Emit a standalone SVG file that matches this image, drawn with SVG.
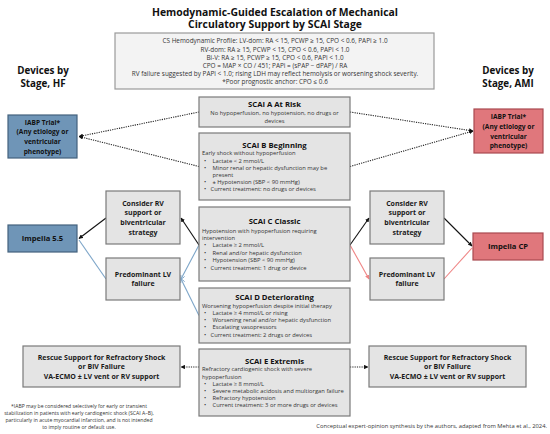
<svg xmlns="http://www.w3.org/2000/svg" width="550" height="434" viewBox="0 0 550 434">
<defs>
<style>
text{font-family:"Open Sans","Liberation Sans",sans-serif;}
.ttl{font-size:10.4px;font-weight:700;fill:#111;text-anchor:middle}
.dev{font-size:9.8px;font-weight:700;fill:#111;text-anchor:middle}
.prof{font-size:6.4px;fill:#333;text-anchor:middle}
.box{fill:#e4e4e4;stroke:#7a7a7a;stroke-width:1.2}
.pbox{fill:#f3f3f3;stroke:#9a9a9a;stroke-width:1.2}
.blue{fill:#6f95b7;stroke:#44627d;stroke-width:1.2}
.red{fill:#e0777c;stroke:#a94a50;stroke-width:1.2}
.st{font-size:7.7px;font-weight:700;fill:#111;text-anchor:middle}
.bd{font-size:5.8px;fill:#333}
.bdc{font-size:5.8px;fill:#333;text-anchor:middle}
.nb{font-size:7px;font-weight:700;fill:#1a1a1a;text-anchor:middle}
.ib{font-size:6.6px;font-weight:700;fill:#111;text-anchor:middle}
.imp{font-size:7.6px;font-weight:700;fill:#111;text-anchor:middle}
.fn{font-size:5.1px;fill:#333;text-anchor:middle}
.cap{font-size:5.8px;fill:#333;text-anchor:end}
.dot{fill:none;stroke:#222;stroke-width:1.1;stroke-dasharray:1.2 1.1}
.blk{fill:none;stroke:#111;stroke-width:1.1}
.bl{fill:none;stroke:#7ea6c9;stroke-width:1.1}
.rd{fill:none;stroke:#ef8585;stroke-width:1.1}
</style>
<marker id="ak" viewBox="0 0 10 10" refX="9" refY="5" markerWidth="4" markerHeight="4" orient="auto"><path d="M0,0 L10,5 L0,10 z" fill="#111"/></marker>
<marker id="ab" viewBox="0 0 10 10" refX="9" refY="5" markerWidth="4" markerHeight="4" orient="auto"><path d="M0,0 L10,5 L0,10" fill="none" stroke="#7ea6c9" stroke-width="2"/></marker>
<marker id="ar" viewBox="0 0 10 10" refX="9" refY="5" markerWidth="4" markerHeight="4" orient="auto"><path d="M0,0 L10,5 L0,10 z" fill="#ef8585"/></marker>
</defs>

<g id="title">
<text class="ttl" x="275" y="15.5">Hemodynamic-Guided Escalation of Mechanical</text>
<text class="ttl" x="275" y="28">Circulatory Support by SCAI Stage</text>
</g>

<g id="profile">
<rect class="pbox" x="115" y="33" width="319" height="56"/>
<text class="prof" x="275" y="43.3">CS Hemodynamic Profile: LV-dom: RA &lt; 15, PCWP ≥ 15, CPO &lt; 0.6, PAPi ≥ 1.0</text>
<text class="prof" x="275" y="51.5">RV-dom: RA ≥ 15, PCWP &lt; 15, CPO &lt; 0.6, PAPi &lt; 1.0</text>
<text class="prof" x="275" y="59.7">Bi-V: RA ≥ 15, PCWP ≥ 15, CPO &lt; 0.6, PAPi &lt; 1.0</text>
<text class="prof" x="275" y="67.9">CPO = MAP × CO / 451; PAPi = (sPAP − dPAP) / RA</text>
<text class="prof" x="275" y="76.1">RV failure suggested by PAPi &lt; 1.0; rising LDH may reflect hemolysis or worsening shock severity.</text>
<text class="prof" x="275" y="84.3">*Poor prognostic anchor: CPO ≤ 0.6</text>
</g>

<g id="hdr-hf">
<text class="dev" x="43" y="73.5">Devices by</text>
<text class="dev" x="43" y="86.5">Stage, HF</text>
</g>
<g id="hdr-ami">
<text class="dev" x="508" y="73.5">Devices by</text>
<text class="dev" x="508" y="86.5">Stage, AMI</text>
</g>

<g id="connectors">
<path class="dot" d="M199,112 L79,136.5" marker-end="url(#ak)"/>
<path class="dot" d="M199,166.5 L79,136.5" marker-end="url(#ak)"/>
<path class="dot" d="M350,112 L473,131" marker-end="url(#ak)"/>
<path class="dot" d="M350,166.5 L473,131" marker-end="url(#ak)"/>
<path class="dot" d="M199,367 L181,367" marker-end="url(#ak)"/>
<path class="dot" d="M350,367 L368,367" marker-end="url(#ak)"/>
<path class="bl" d="M199,245 L181,279" marker-end="url(#ab)"/>
<path class="bl" d="M199,315.5 L181,279" marker-end="url(#ab)"/>
<path class="bl" d="M106,279 L79,240"/>
<path class="blk" d="M199,245 L181,218" marker-end="url(#ak)"/>
<path class="blk" d="M106,218 L79,238.5" marker-end="url(#ak)"/>
<path class="rd" d="M350,245 L369,279" marker-end="url(#ar)"/>
<path class="rd" d="M444,279 L472,248"/>
<path class="blk" d="M350,245 L369,218" marker-end="url(#ak)"/>
<path class="blk" d="M444,218 L472,246" marker-end="url(#ak)"/>
</g>

<g id="iabp-hf">
<rect class="blue" x="8" y="115" width="69" height="43"/>
<text class="ib" x="42.5" y="124.5">IABP Trial*</text>
<text class="ib" x="42.5" y="134.2">(Any etiology or</text>
<text class="ib" x="42.5" y="143.9">ventricular</text>
<text class="ib" x="42.5" y="153.6">phenotype)</text>
</g>

<g id="iabp-ami">
<rect class="red" x="474" y="109" width="69" height="44"/>
<text class="ib" x="508.5" y="119.3">IABP Trial*</text>
<text class="ib" x="508.5" y="129">(Any etiology or</text>
<text class="ib" x="508.5" y="138.7">ventricular</text>
<text class="ib" x="508.5" y="148.4">phenotype)</text>
</g>

<g id="scai-a">
<rect class="box" x="199" y="97" width="151" height="30"/>
<text class="st" x="274.5" y="106.8">SCAI A At Risk</text>
<text class="bdc" x="274.5" y="115.3">No hypoperfusion, no hypotension, no drugs or</text>
<text class="bdc" x="274.5" y="122.6">devices</text>
</g>

<g id="scai-b">
<rect class="box" x="199" y="133" width="151" height="67"/>
<text class="st" x="274.5" y="147.5">SCAI B Beginning</text>
<text class="bd" x="202" y="155.4">Early shock without hypoperfusion</text>
<text class="bd" x="204" y="162.5">•</text><text class="bd" x="212.5" y="162.5">Lactate &lt; 2 mmol/L</text>
<text class="bd" x="204" y="169.7">•</text><text class="bd" x="212.5" y="169.7">Minor renal or hepatic dysfunction may be</text>
<text class="bd" x="212.5" y="176.9">present</text>
<text class="bd" x="204" y="184.1">•</text><text class="bd" x="212.5" y="184.1">± Hypotension (SBP &lt; 90 mmHg)</text>
<text class="bd" x="204" y="191.3">•</text><text class="bd" x="210.5" y="191.3">Current treatment: no drugs or devices</text>
</g>

<g id="scai-c">
<rect class="box" x="199" y="207" width="151" height="74"/>
<text class="st" x="274.5" y="224.3">SCAI C Classic</text>
<text class="bd" x="202" y="232.5">Hypotension with hypoperfusion requiring</text>
<text class="bd" x="202" y="239.7">intervention</text>
<text class="bd" x="204" y="247">•</text><text class="bd" x="212.5" y="247">Lactate ≥ 2 mmol/L</text>
<text class="bd" x="204" y="254.5">•</text><text class="bd" x="212.5" y="254.5">Renal and/or hepatic dysfunction</text>
<text class="bd" x="204" y="262">•</text><text class="bd" x="212.5" y="262">Hypotension (SBP &lt; 90 mmHg)</text>
<text class="bd" x="204" y="269.5">•</text><text class="bd" x="210.5" y="269.5">Current treatment: 1 drug or device</text>
</g>

<g id="scai-d">
<rect class="box" x="199" y="288" width="151" height="55"/>
<text class="st" x="274.5" y="299.5">SCAI D Deteriorating</text>
<text class="bd" x="202" y="307.5">Worsening hypoperfusion despite initial therapy</text>
<text class="bd" x="204" y="314.9">•</text><text class="bd" x="212.5" y="314.9">Lactate ≥ 4 mmol/L or rising</text>
<text class="bd" x="204" y="322.1">•</text><text class="bd" x="212.5" y="322.1">Worsening renal and/or hepatic dysfunction</text>
<text class="bd" x="204" y="329.3">•</text><text class="bd" x="212.5" y="329.3">Escalating vasopressors</text>
<text class="bd" x="204" y="336.5">•</text><text class="bd" x="210.5" y="336.5">Current treatment: 2 drugs or devices</text>
</g>

<g id="scai-e">
<rect class="box" x="199" y="349" width="151" height="67"/>
<text class="st" x="274.5" y="363.5">SCAI E Extremis</text>
<text class="bd" x="202" y="371.4">Refractory cardiogenic shock with severe</text>
<text class="bd" x="202" y="378.5">hypoperfusion</text>
<text class="bd" x="204" y="385.8">•</text><text class="bd" x="212.5" y="385.8">Lactate ≥ 8 mmol/L</text>
<text class="bd" x="204" y="393">•</text><text class="bd" x="212.5" y="393">Severe metabolic acidosis and multiorgan failure</text>
<text class="bd" x="204" y="400.2">•</text><text class="bd" x="212.5" y="400.2">Refractory hypotension</text>
<text class="bd" x="204" y="407.4">•</text><text class="bd" x="212.5" y="407.4">Current treatment: 3 or more drugs or devices</text>
</g>

<g id="rv-hf">
<rect class="box" x="106" y="191" width="74" height="53"/>
<text class="nb" x="143" y="205.5">Consider RV</text>
<text class="nb" x="143" y="215.2">support or</text>
<text class="nb" x="143" y="224.9">biventricular</text>
<text class="nb" x="143" y="234.6">strategy</text>
</g>

<g id="lv-hf">
<rect class="box" x="106" y="258" width="74" height="42"/>
<text class="nb" x="143" y="276.5">Predominant LV</text>
<text class="nb" x="143" y="286.3">failure</text>
</g>

<g id="rv-ami">
<rect class="box" x="370" y="191" width="74" height="53"/>
<text class="nb" x="407" y="205.5">Consider RV</text>
<text class="nb" x="407" y="215.2">support or</text>
<text class="nb" x="407" y="224.9">biventricular</text>
<text class="nb" x="407" y="234.6">strategy</text>
</g>

<g id="lv-ami">
<rect class="box" x="370" y="258" width="74" height="42"/>
<text class="nb" x="407" y="276.5">Predominant LV</text>
<text class="nb" x="407" y="286.3">failure</text>
</g>

<g id="impella-55">
<rect class="blue" x="8" y="225" width="69" height="27"/>
<text class="imp" x="42.5" y="241">Impella 5.5</text>
</g>

<g id="impella-cp">
<rect class="red" x="473" y="233" width="70" height="27"/>
<text class="imp" x="508" y="249">Impella CP</text>
</g>

<g id="rescue-hf">
<rect class="box" x="23" y="346" width="157" height="41"/>
<text class="nb" x="101.5" y="359.5">Rescue Support for Refractory Shock</text>
<text class="nb" x="101.5" y="369.2">or BiV Failure</text>
<text class="nb" x="101.5" y="378.9">VA-ECMO ± LV vent or RV support</text>
</g>

<g id="rescue-ami">
<rect class="box" x="369" y="346" width="157" height="41"/>
<text class="nb" x="447.5" y="359.5">Rescue Support for Refractory Shock</text>
<text class="nb" x="447.5" y="369.2">or BiV Failure</text>
<text class="nb" x="447.5" y="378.9">VA-ECMO ± LV vent or RV support</text>
</g>

<g id="footnote">
<text class="fn" x="79" y="407.8">*IABP may be considered selectively for early or transient</text>
<text class="fn" x="79" y="415">stabilization in patients with early cardiogenic shock (SCAI A–B),</text>
<text class="fn" x="79" y="422.3">particularly in acute myocardial infarction, and is not intended</text>
<text class="fn" x="79" y="429.3">to imply routine or default use.</text>
</g>

<g id="caption">
<text class="cap" x="547" y="428">Conceptual expert-opinion synthesis by the authors, adapted from Mehta et al., 2024.</text>
</g>
</svg>
